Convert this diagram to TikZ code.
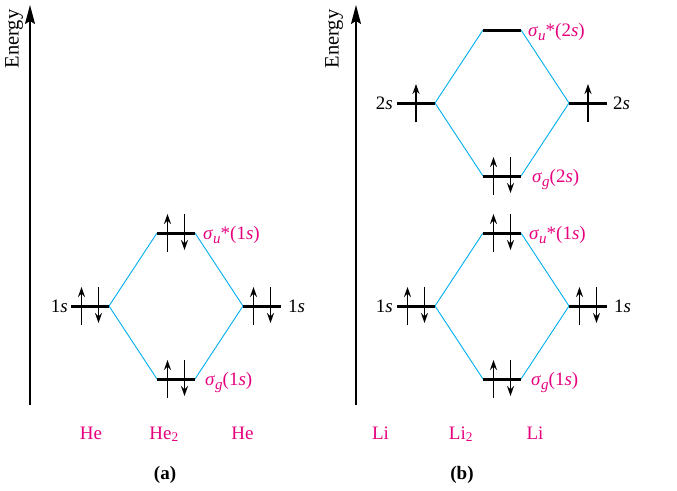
\documentclass[tikz,border=0pt]{standalone}
\usepackage{fontspec}
\setmainfont{Liberation Serif}
\usetikzlibrary{arrows.meta}
\definecolor{mopink}{RGB}{230,0,126}
\definecolor{mocyan}{RGB}{0,174,239}
\newcommand{\orb}[2]{\textit{σ}\raisebox{-0.55ex}{\fontsize{15}{16}\selectfont\textit{#1}}#2}

\begin{document}
\begin{tikzpicture}[x=1pt, y=-1pt, font=\fontsize{19}{22}\selectfont,
  lvl/.style={minimum width=38pt, minimum height=0pt, inner sep=0pt, outer sep=0pt},
  bar/.style={line width=3pt},
  mix/.style={mocyan, line width=0.9pt},
  spin/.style={line width=1.5pt, -{Stealth[length=10pt,width=7pt]}},
  axis/.style={line width=1.3pt, -{Stealth[length=19pt,width=10pt,inset=3pt]}},
  tag/.style={mopink, inner sep=0pt},
  mo/.style={mopink, anchor=base west, inner sep=0pt},
  ao/.style={inner sep=0pt}]
\useasboundingbox (0,0) rectangle (677,490);

% axes
\coordinate (Oa) at (30,405);
\coordinate (Ta) at (30,5);
\coordinate (Ob) at (356,405);
\coordinate (Tb) at (356,5);
\draw[axis] (Oa) -- (Ta);
\draw[axis] (Ob) -- (Tb);
\node[rotate=90, font=\fontsize{20.5}{22}\selectfont] (Ea) at (14,39) {Energy};
\node[rotate=90, font=\fontsize{20.5}{22}\selectfont] (Eb) at (334,39) {Energy};

% levels (a)
\node[lvl] (He1) at (90,306) {};
\node[lvl] (Hes) at (176,233) {};
\node[lvl] (Heg) at (176,379) {};
\node[lvl] (He2) at (262,306) {};
% levels (b)
\node[lvl] (Li1) at (416,306) {};
\node[lvl] (Lis) at (502,233) {};
\node[lvl] (Lig) at (502,379) {};
\node[lvl] (Li2) at (588,306) {};
\node[lvl] (Lt1) at (416,103) {};
\node[lvl] (Lts) at (502,30) {};
\node[lvl] (Ltg) at (502,176) {};
\node[lvl] (Lt2) at (588,103) {};

% correlation lines
\foreach \a/\s/\g/\b in {He1/Hes/Heg/He2, Li1/Lis/Lig/Li2, Lt1/Lts/Ltg/Lt2} {
  \draw[mix] (\a.east) -- (\s.west) (\a.east) -- (\g.west);
  \draw[mix] (\s.east) -- (\b.west) (\g.east) -- (\b.west);
}
\foreach \n in {He1,Hes,Heg,He2,Li1,Lis,Lig,Li2,Lt1,Lts,Ltg,Lt2}
  \draw[bar] (\n.west) -- (\n.east);

% electrons
\foreach \n in {He1,Hes,Heg,He2,Li1,Lis,Lig,Li2,Ltg} {
  \draw[spin] ([xshift=-8.5pt,yshift=-19pt]\n.center) -- ++(0,-38);
  \draw[spin] ([xshift=8.5pt,yshift=19pt]\n.center) -- ++(0,36);
}
\foreach \n in {Lt1,Lt2}
  \draw[spin] ([yshift=-19pt]\n.center) -- ++(0,-38);

% atomic labels
\node[ao, anchor=east] (He1l) at ([xshift=-3pt]He1.west) {1\textit{s}};
\node[ao, anchor=west] (He2l) at ([xshift=7pt]He2.east) {1\textit{s}};
\node[ao, anchor=east] (Li1l) at ([xshift=-4pt]Li1.west) {1\textit{s}};
\node[ao, anchor=west] (Li2l) at ([xshift=7pt]Li2.east) {1\textit{s}};
\node[ao, anchor=east] (Lt1l) at ([xshift=-4pt]Lt1.west) {2\textit{s}};
\node[ao, anchor=west] (Lt2l) at ([xshift=6pt]Lt2.east) {2\textit{s}};

% molecular labels
\node[mo] (Hesl) at (203,239) {\orb{u}{*}(1\textit{s})};
\node[mo] (Hegl) at (205,385) {\orb{g}{}(1\textit{s})};
\node[mo] (Lisl) at (529,239) {\orb{u}{*}(1\textit{s})};
\node[mo] (Ligl) at (531,385) {\orb{g}{}(1\textit{s})};
\node[mo] (Ltsl) at (528,36) {\orb{u}{*}(2\textit{s})};
\node[mo] (Ltgl) at (532,182) {\orb{g}{}(2\textit{s})};

% species
\node[tag, anchor=base] (HeA) at (91,439) {He};
\node[tag, anchor=base] (HeM) at (164,439) {He\textsubscript{2}};
\node[tag, anchor=base] (HeB) at (242.5,439) {He};
\node[tag, anchor=base] (LiA) at (380.5,439) {Li};
\node[tag, anchor=base] (LiM) at (461,439) {Li\textsubscript{2}};
\node[tag, anchor=base] (LiB) at (535,439) {Li};
\node[anchor=base, inner sep=0pt] (capa) at (165,479) {\textbf{(a)}};
\node[anchor=base, inner sep=0pt] (capb) at (462,479) {\textbf{(b)}};
\end{tikzpicture}
\end{document}
